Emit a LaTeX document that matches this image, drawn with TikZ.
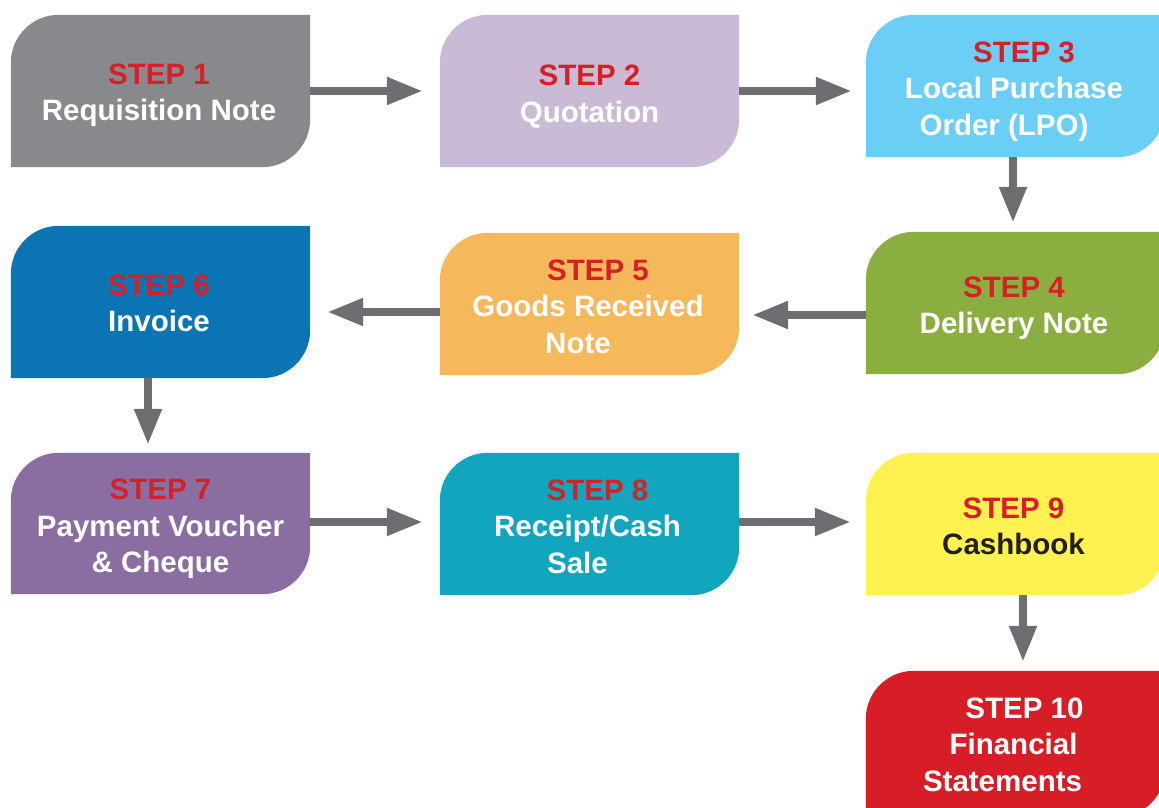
\documentclass[tikz,border=0pt]{standalone}
\usepackage{fontspec}
\setmainfont{Liberation Sans}
\usetikzlibrary{arrows.meta,backgrounds}
\definecolor{c1}{HTML}{88898C}
\definecolor{c2}{HTML}{C9BBD5}
\definecolor{c3}{HTML}{6BCFF5}
\definecolor{c4}{HTML}{8AAE40}
\definecolor{c5}{HTML}{F5B85A}
\definecolor{c6}{HTML}{0B75B3}
\definecolor{c7}{HTML}{8A6EA2}
\definecolor{c8}{HTML}{12A5BE}
\definecolor{c9}{HTML}{FEF150}
\definecolor{c10}{HTML}{D71E26}
\definecolor{stepred}{HTML}{D71F26}
\definecolor{arrowgray}{HTML}{6D6E71}
\definecolor{darktext}{HTML}{231F20}
\newcommand{\stepshape}[2]{%
  \fill[#2] (#1.south west) -- ([yshift=-48pt]#1.north west)
    arc[start angle=180,end angle=90,radius=48pt] -- (#1.north east)
    -- ([yshift=48pt]#1.south east)
    arc[start angle=0,end angle=-90,radius=48pt] -- cycle;}
\newcommand{\stp}[1]{{\color{stepred}#1}}
\tikzset{
  stepbox/.style={inner sep=0pt, minimum width=299pt, rectangle},
  steptext/.style={inner sep=0pt, align=center, yshift=-5.5pt,
    text=white, font=\fontsize{29.5}{36.5}\selectfont\bfseries},
  flow/.style={draw=arrowgray, line width=8pt, -{Triangle[length=36pt,width=26pt]}}
}
\begin{document}
\begin{tikzpicture}[x=1pt,y=1pt]
\useasboundingbox (0,0) rectangle (1159,-808);
\node[stepbox, minimum height=152pt] (n1) at (160.5,-91) {};
\node[stepbox, minimum height=152pt] (n2) at (589.5,-91) {};
\node[stepbox, minimum height=142pt] (n3) at (1015.5,-86) {};
\node[stepbox, minimum height=142pt] (n4) at (1015.5,-303) {};
\node[stepbox, minimum height=142pt] (n5) at (589.5,-304) {};
\node[stepbox, minimum height=152pt] (n6) at (160.5,-302) {};
\node[stepbox, minimum height=141pt] (n7) at (160.5,-523.5) {};
\node[stepbox, minimum height=142pt] (n8) at (589.5,-524) {};
\node[stepbox, minimum height=142pt] (n9) at (1015.5,-524) {};
\node[stepbox, minimum height=146pt] (n10) at (1015.5,-744) {};
\begin{scope}[on background layer]
\stepshape{n1}{c1}
\stepshape{n2}{c2}
\stepshape{n3}{c3}
\stepshape{n4}{c4}
\stepshape{n5}{c5}
\stepshape{n6}{c6}
\stepshape{n7}{c7}
\stepshape{n8}{c8}
\stepshape{n9}{c9}
\stepshape{n10}{c10}
\end{scope}
\node[steptext] (t1) at ([xshift=-1.5pt,yshift=1pt]n1.center) {\stp{STEP 1}\\Requisition Note};
\node[steptext] (t2) at (n2.center) {\stp{STEP 2}\\Quotation};
\node[steptext] (t3) at ([xshift=-1.5pt]n3.center) {\stp{\hspace*{20pt}STEP 3}\\Local Purchase\\Order (LPO)\hspace*{20pt}};
\node[steptext] (t4) at ([xshift=-1.5pt]n4.center) {\stp{STEP 4}\\Delivery Note};
\node[steptext] (t5) at ([xshift=-1.5pt,yshift=3pt]n5.center) {\stp{\hspace*{20pt}STEP 5}\\Goods Received\\Note\hspace*{20pt}};
\node[steptext] (t6) at ([xshift=-1.5pt,yshift=4pt]n6.center) {\stp{STEP 6}\\Invoice};
\node[steptext] (t7) at (n7.center) {\stp{STEP 7}\\Payment Voucher\\\& Cheque};
\node[steptext] (t8) at ([xshift=-2pt,yshift=3pt]n8.center) {\stp{\hspace*{20pt}STEP 8}\\Receipt/Cash\\Sale\hspace*{20pt}};
\node[steptext, text=darktext] (t9) at ([xshift=-2pt,yshift=3pt]n9.center) {\stp{STEP 9}\\Cashbook};
\node[steptext] (t10) at ([xshift=-2pt,yshift=5pt]n10.center) {\hspace*{22pt}STEP 10\\Financial\\Statements\hspace*{22pt}};
\draw[flow, shorten >=17pt] (n1.east) -- (n1.east -| n2.west);
\draw[flow, shorten >=14pt] (n2.east) -- (n2.east -| n3.west);
\draw[flow, shorten >=9pt] ([xshift=-2.5pt]n3.south) -- ([xshift=-2.5pt]n3.south |- n4.north);
\draw[flow, shorten >=13pt] ([yshift=-12pt]n4.west) -- ([yshift=-12pt]n4.west -| n5.east);
\draw[flow, shorten >=17pt] ([yshift=-8pt]n5.west) -- ([yshift=-8pt]n5.west -| n6.east);
\draw[flow, shorten >=8pt] ([xshift=-12.5pt]n6.south) -- ([xshift=-12.5pt]n6.south |- n7.north);
\draw[flow, shorten >=17pt] ([yshift=1.5pt]n7.east) -- ([yshift=1.5pt]n7.east -| n8.west);
\draw[flow, shorten >=15pt] ([yshift=2pt]n8.east) -- ([yshift=2pt]n8.east -| n9.west);
\draw[flow, shorten >=9pt] ([xshift=7.5pt]n9.south) -- ([xshift=7.5pt]n9.south |- n10.north);
\end{tikzpicture}
\end{document}
